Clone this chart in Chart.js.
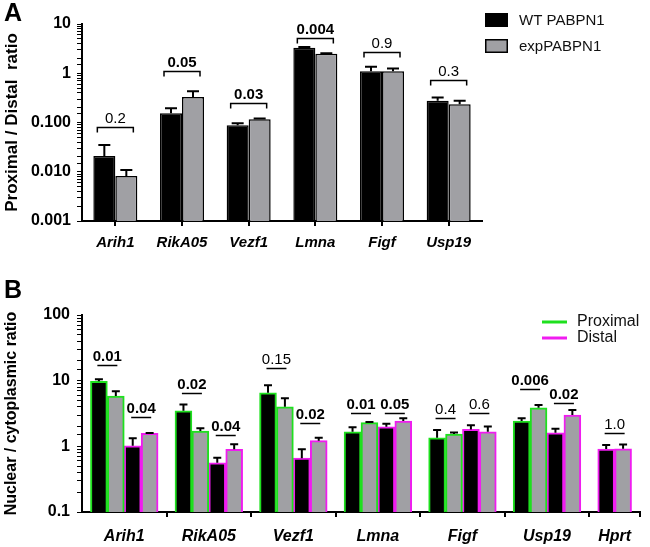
<!DOCTYPE html>
<html><head><meta charset="utf-8">
<script src="https://cdn.jsdelivr.net/npm/chart.js@4.4.1/dist/chart.umd.min.js"></script>
<style>
html,body{margin:0;padding:0;background:#fff;width:650px;height:547px;overflow:hidden}
#wa{position:absolute;left:0;top:0;width:650px;height:265px}
#wb{position:absolute;left:0;top:265px;width:650px;height:282px}
canvas{display:block}
</style></head><body>
<div id="wa"><canvas id="ca" width="650" height="265"></canvas></div>
<div id="wb"><canvas id="cb" width="650" height="282"></canvas></div>
<script>
// ---------- Panel A data ----------
const genesA = ['Arih1', 'RikA05', 'Vezf1', 'Lmna', 'Figf', 'Usp19'];
const wtA = [0.0208, 0.155, 0.088, 3.3, 1.1, 0.275];
const wtAErrTop = [0.035, 0.195, 0.097, 3.4, 1.35, 0.32];
const expA = [0.0082, 0.33, 0.117, 2.5, 1.1, 0.235];
const expAErrTop = [0.0108, 0.43, 0.12, 2.55, 1.25, 0.275];
const pA = ['0.2', '0.05', '0.03', '0.004', '0.9', '0.3'];
const pABold = [false, true, true, true, false, false];
const pALevel = [0.081, 1.10, 0.247, 5.15, 2.68, 0.724];
const yTickLabelsA = { '-3': '0.001', '-2': '0.010', '-1': '0.100', '0': '1', '1': '10' };
const legendA = ['WT PABPN1', 'expPABPN1'];

// ---------- Panel B data ----------
const genesB = ['Arih1', 'RikA05', 'Vezf1', 'Lmna', 'Figf', 'Usp19', 'Hprt'];
const proxWT = [9.8, 3.48, 6.55, 1.67, 1.35, 2.43, null];
const proxWTErrTop = [10.5, 4.35, 8.5, 1.95, 1.77, 2.67, null];
const proxExp = [5.83, 1.71, 4.0, 2.29, 1.54, 3.87, null];
const proxExpErrTop = [6.9, 1.88, 5.4, 2.35, 1.62, 4.25, null];
const distWT = [1.02, 0.56, 0.66, 1.99, 1.81, 1.61, 0.91];
const distWTErrTop = [1.33, 0.67, 0.9, 2.2, 2.09, 1.86, 1.05];
const distExp = [1.58, 0.9, 1.22, 2.43, 1.67, 2.99, 0.92];
const distExpErrTop = [1.6, 1.08, 1.35, 2.67, 2.0, 3.57, 1.07];
const pBProx = ['0.01', '0.02', '0.15', '0.01', '0.4', '0.006', null];
const pBProxBold = [true, true, false, true, false, true, false];
const pBProxLevel = [17.3, 6.41, 15.7, 3.25, 2.67, 7.38, null];
const pBDist = ['0.04', '0.04', '0.02', '0.05', '0.6', '0.02', '1.0'];
const pBDistBold = [true, true, true, true, false, true, false];
const pBDistLevel = [2.82, 1.49, 2.24, 3.25, 3.25, 4.51, 1.58];
const yTickLabelsB = { '-1': '0.1', '0': '1', '1': '10', '2': '100' };
const legendB = ['Proximal', 'Distal'];

// ---------- styles ----------
const FONT = "'Liberation Sans', Arial, Helvetica, sans-serif";
const BLACK = '#000000';
const GREY = '#a0a0a4';
const GREEN = '#1ee01e';
const MAGENTA = '#f01cf0';

function decadeLabel(map, v) {
  const l = Math.log10(v);
  const r = Math.round(l);
  if (Math.abs(l - r) < 1e-6 && map[String(r)] !== undefined) return map[String(r)];
  return '';
}

const errPlugin = {
  id: 'errbars',
  afterDatasetsDraw(chart, args, opts) {
    const ctx = chart.ctx, ys = chart.scales.y;
    chart.data.datasets.forEach((ds, di) => {
      const meta = chart.getDatasetMeta(di);
      meta.data.forEach((bar, j) => {
        const top = ds.errTop[j];
        if (top == null) return;
        const yt = ys.getPixelForValue(top);
        ctx.save();
        ctx.strokeStyle = '#000';
        ctx.lineWidth = opts.lw;
        ctx.beginPath();
        ctx.moveTo(bar.x, bar.y);
        ctx.lineTo(bar.x, yt);
        ctx.moveTo(bar.x - opts.cap / 2, yt);
        ctx.lineTo(bar.x + opts.cap / 2, yt);
        ctx.stroke();
        ctx.restore();
      });
    });
  }
};

// ---------- Chart A ----------
const annotA = {
  id: 'annotA',
  afterDraw(chart) {
    const ctx = chart.ctx, xs = chart.scales.x, ys = chart.scales.y;
    ctx.save();
    ctx.strokeStyle = '#000';
    ctx.fillStyle = '#000';
    ctx.lineWidth = 1.5;
    ctx.textAlign = 'center';
    ctx.textBaseline = 'alphabetic';
    genesA.forEach((g, i) => {
      const cx = xs.getPixelForValue(i);
      const by = Math.round(ys.getPixelForValue(pALevel[i])) + 0.5;
      ctx.beginPath();
      ctx.moveTo(cx - 18, by + 5);
      ctx.lineTo(cx - 18, by);
      ctx.lineTo(cx + 18, by);
      ctx.lineTo(cx + 18, by + 5);
      ctx.stroke();
      ctx.font = (pABold[i] ? 'bold ' : '') + '15px ' + FONT;
      ctx.fillText(pA[i], cx, by - 5);
    });
    // legend
    const cols = [BLACK, GREY];
    legendA.forEach((t, k) => {
      const yy = 13 + k * 26;
      ctx.fillStyle = cols[k];
      ctx.fillRect(485, yy, 23, 14);
      ctx.lineWidth = 1.5;
      ctx.strokeRect(485.75, yy + 0.75, 21.5, 12.5);
      ctx.fillStyle = '#111';
      ctx.font = '15px ' + FONT;
      ctx.textAlign = 'left';
      ctx.textBaseline = 'middle';
      ctx.fillText(t, 519, yy + 7.5);
    });
    // panel letter
    ctx.fillStyle = '#000';
    ctx.font = 'bold 25px ' + FONT;
    ctx.textAlign = 'left';
    ctx.textBaseline = 'top';
    ctx.fillText('A', 4, 2);
    ctx.restore();
  }
};

new Chart(document.getElementById('ca'), {
  type: 'bar',
  data: {
    labels: genesA,
    datasets: [
      { label: legendA[0], data: wtA, errTop: wtAErrTop, backgroundColor: BLACK, borderColor: BLACK, borderWidth: 1.5 },
      { label: legendA[1], data: expA, errTop: expAErrTop, backgroundColor: GREY, borderColor: BLACK, borderWidth: 1.5 }
    ]
  },
  options: {
    responsive: false,
    animation: false,
    devicePixelRatio: 1,
    categoryPercentage: 0.66,
    barPercentage: 1,
    layout: { padding: { top: 24, right: 168, bottom: 0, left: 0 } },
    plugins: { legend: { display: false }, tooltip: { enabled: false }, errbars: { lw: 2, cap: 12 } },
    scales: {
      x: {
        offset: true,
        grid: { offset: false, drawOnChartArea: false, drawTicks: true, tickLength: 5, color: '#000', lineWidth: 2 },
        border: { display: true, color: '#000', width: 2 },
        ticks: { color: '#000', padding: 8, maxRotation: 0, font: { family: FONT, size: 15, weight: 'bold', style: 'italic' } },
        afterFit(s) { s.height = 44; }
      },
      y: {
        type: 'logarithmic',
        min: 0.001,
        max: 10,
        title: { display: true, text: 'Proximal / Distal  ratio', color: '#000', padding: { top: 2, bottom: 0 }, font: { family: FONT, size: 17, weight: 'bold' } },
        grid: { drawOnChartArea: false, drawTicks: true, tickLength: 5, color: '#000', lineWidth: 1 },
        border: { display: true, color: '#000', width: 2 },
        ticks: { autoSkip: false, color: '#000', padding: 6, font: { family: FONT, size: 16, weight: 'bold' },
          callback: (v) => decadeLabel(yTickLabelsA, v) },
        afterFit(s) { s.width = 82; }
      }
    }
  },
  plugins: [errPlugin, annotA]
});

// ---------- Chart B ----------
const seriesB = [proxWT, proxExp, distWT, distExp];
const errB = [proxWTErrTop, proxExpErrTop, distWTErrTop, distExpErrTop];
const slotsB = [];
let cursor = 0;
genesB.forEach((g, i) => {
  const present = seriesB.map(s => s[i] != null);
  const n = present.filter(Boolean).length;
  let k = 1;
  const pos = present.map(p => (p ? cursor + (k++) : null));
  slotsB.push({ start: cursor, end: cursor + n + 1, center: cursor + (n + 1) / 2, pos, n });
  cursor += n + 1;
});
const totalSlots = cursor;
const boundaries = slotsB.map(s => s.end);
const centers = slotsB.map(s => s.center);

function buildDataset(si, fill, border) {
  const data = [], errTop = [];
  genesB.forEach((g, i) => {
    if (seriesB[si][i] == null) return;
    data.push({ x: slotsB[i].pos[si], y: seriesB[si][i] });
    errTop.push(errB[si][i]);
  });
  return { data, errTop, backgroundColor: fill, borderColor: border, borderWidth: 2, grouped: false,
    categoryPercentage: 1, barPercentage: 1 };
}

const annotB = {
  id: 'annotB',
  afterDraw(chart) {
    const ctx = chart.ctx, xs = chart.scales.x, ys = chart.scales.y;
    ctx.save();
    ctx.strokeStyle = '#000';
    ctx.fillStyle = '#000';
    ctx.lineWidth = 1.5;
    ctx.textAlign = 'center';
    ctx.textBaseline = 'alphabetic';
    function mark(text, bold, level, xv) {
      const cx = xs.getPixelForValue(xv);
      const by = Math.round(ys.getPixelForValue(level)) + 0.5;
      ctx.beginPath();
      ctx.moveTo(cx - 10, by);
      ctx.lineTo(cx + 10, by);
      ctx.stroke();
      ctx.font = (bold ? 'bold ' : '') + '15px ' + FONT;
      ctx.fillText(text, cx, by - 5);
    }
    genesB.forEach((g, i) => {
      const s = slotsB[i];
      if (pBProx[i] != null) mark(pBProx[i], pBProxBold[i], pBProxLevel[i], s.start + 1.5);
      if (pBDist[i] != null) mark(pBDist[i], pBDistBold[i], pBDistLevel[i], s.start + s.n - 0.5);
    });
    // legend
    const cols = [GREEN, MAGENTA];
    legendB.forEach((t, k) => {
      const yy = 57 + k * 16;
      ctx.strokeStyle = cols[k];
      ctx.lineWidth = 3;
      ctx.beginPath();
      ctx.moveTo(542, yy);
      ctx.lineTo(567, yy);
      ctx.stroke();
      ctx.fillStyle = '#111';
      ctx.font = '16px ' + FONT;
      ctx.textAlign = 'left';
      ctx.textBaseline = 'middle';
      ctx.fillText(t, 577, yy);
    });
    ctx.fillStyle = '#000';
    ctx.font = 'bold 25px ' + FONT;
    ctx.textAlign = 'left';
    ctx.textBaseline = 'top';
    ctx.fillText('B', 4, 14);
    ctx.restore();
  }
};

new Chart(document.getElementById('cb'), {
  type: 'bar',
  data: {
    datasets: [
      buildDataset(0, BLACK, GREEN),
      buildDataset(1, GREY, GREEN),
      buildDataset(2, BLACK, MAGENTA),
      buildDataset(3, GREY, MAGENTA)
    ]
  },
  options: {
    responsive: false,
    animation: false,
    devicePixelRatio: 1,
    layout: { padding: { top: 50, right: 3, bottom: 0, left: 0 } },
    plugins: { legend: { display: false }, tooltip: { enabled: false }, errbars: { lw: 2, cap: 8 } },
    scales: {
      x: {
        type: 'linear',
        min: 0,
        max: totalSlots,
        offset: false,
        afterBuildTicks(s) {
          const vals = [...centers, ...boundaries].sort((a, b) => a - b);
          s.ticks = vals.map(v => ({ value: v }));
        },
        grid: { offset: false, drawOnChartArea: false, drawTicks: true, tickLength: 5, lineWidth: 2,
          color: (c) => (c.tick && boundaries.includes(c.tick.value) ? '#000' : 'rgba(0,0,0,0)') },
        border: { display: true, color: '#000', width: 2 },
        ticks: { autoSkip: false, maxRotation: 0, color: '#000', padding: 10,
          font: { family: FONT, size: 16, weight: 'bold', style: 'italic' },
          callback: (v) => { const i = centers.indexOf(v); return i >= 0 ? genesB[i] : ''; } },
        afterFit(s) { s.height = 35; }
      },
      y: {
        type: 'logarithmic',
        min: 0.1,
        max: 100,
        title: { display: true, text: 'Nuclear / cytoplasmic ratio', color: '#000', padding: { top: 2, bottom: 0 }, font: { family: FONT, size: 16, weight: 'bold' } },
        grid: { drawOnChartArea: false, drawTicks: true, tickLength: 5, color: '#000', lineWidth: 1 },
        border: { display: true, color: '#000', width: 2 },
        ticks: { autoSkip: false, color: '#000', padding: 7, font: { family: FONT, size: 16, weight: 'bold' },
          callback: (v) => decadeLabel(yTickLabelsB, v) },
        afterFit(s) { s.width = 82; }
      }
    }
  },
  plugins: [errPlugin, annotB]
});
</script>
</body></html>
